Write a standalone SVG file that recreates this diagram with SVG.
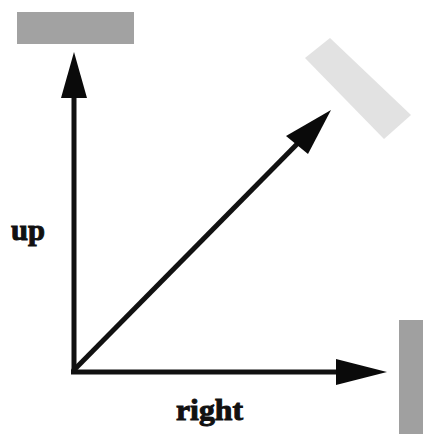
<svg xmlns="http://www.w3.org/2000/svg" width="423" height="434" viewBox="0 0 423 434">
<style>
.ax{stroke:#111;stroke-width:5;fill:none}
.hd{fill:#0a0a0a}
.lbl{font-family:"Liberation Serif","DejaVu Serif",serif;font-weight:bold;font-size:30px;fill:#111;stroke:#111;stroke-width:1}
</style>
<rect width="423" height="434" fill="#fff"/>
<g id="top-plate"><rect x="17" y="12" width="117" height="32" fill="#a2a2a2"/></g>
<g id="diag-plate"><polygon points="330,38 305,58 384,139 411,115" fill="#e2e2e2"/></g>
<g id="side-plate"><rect x="399" y="320" width="24" height="114" fill="#a0a0a0"/></g>
<g id="connectors">
<line class="ax" x1="74" y1="374" x2="74" y2="90"/>
<polygon class="hd" points="74,52 87,98 61,98"/>
<line class="ax" x1="71" y1="372" x2="345" y2="372"/>
<polygon class="hd" points="387,372 336,359 336,385"/>
<line class="ax" x1="73" y1="371" x2="305" y2="136"/>
<polygon class="hd" points="331,110 308,154 286,136"/>
</g>
<g id="label-up"><text class="lbl" x="11" y="240" textLength="34" lengthAdjust="spacingAndGlyphs">up</text></g>
<g id="label-right"><text class="lbl" x="176" y="420" textLength="67" lengthAdjust="spacingAndGlyphs">right</text></g>
</svg>
